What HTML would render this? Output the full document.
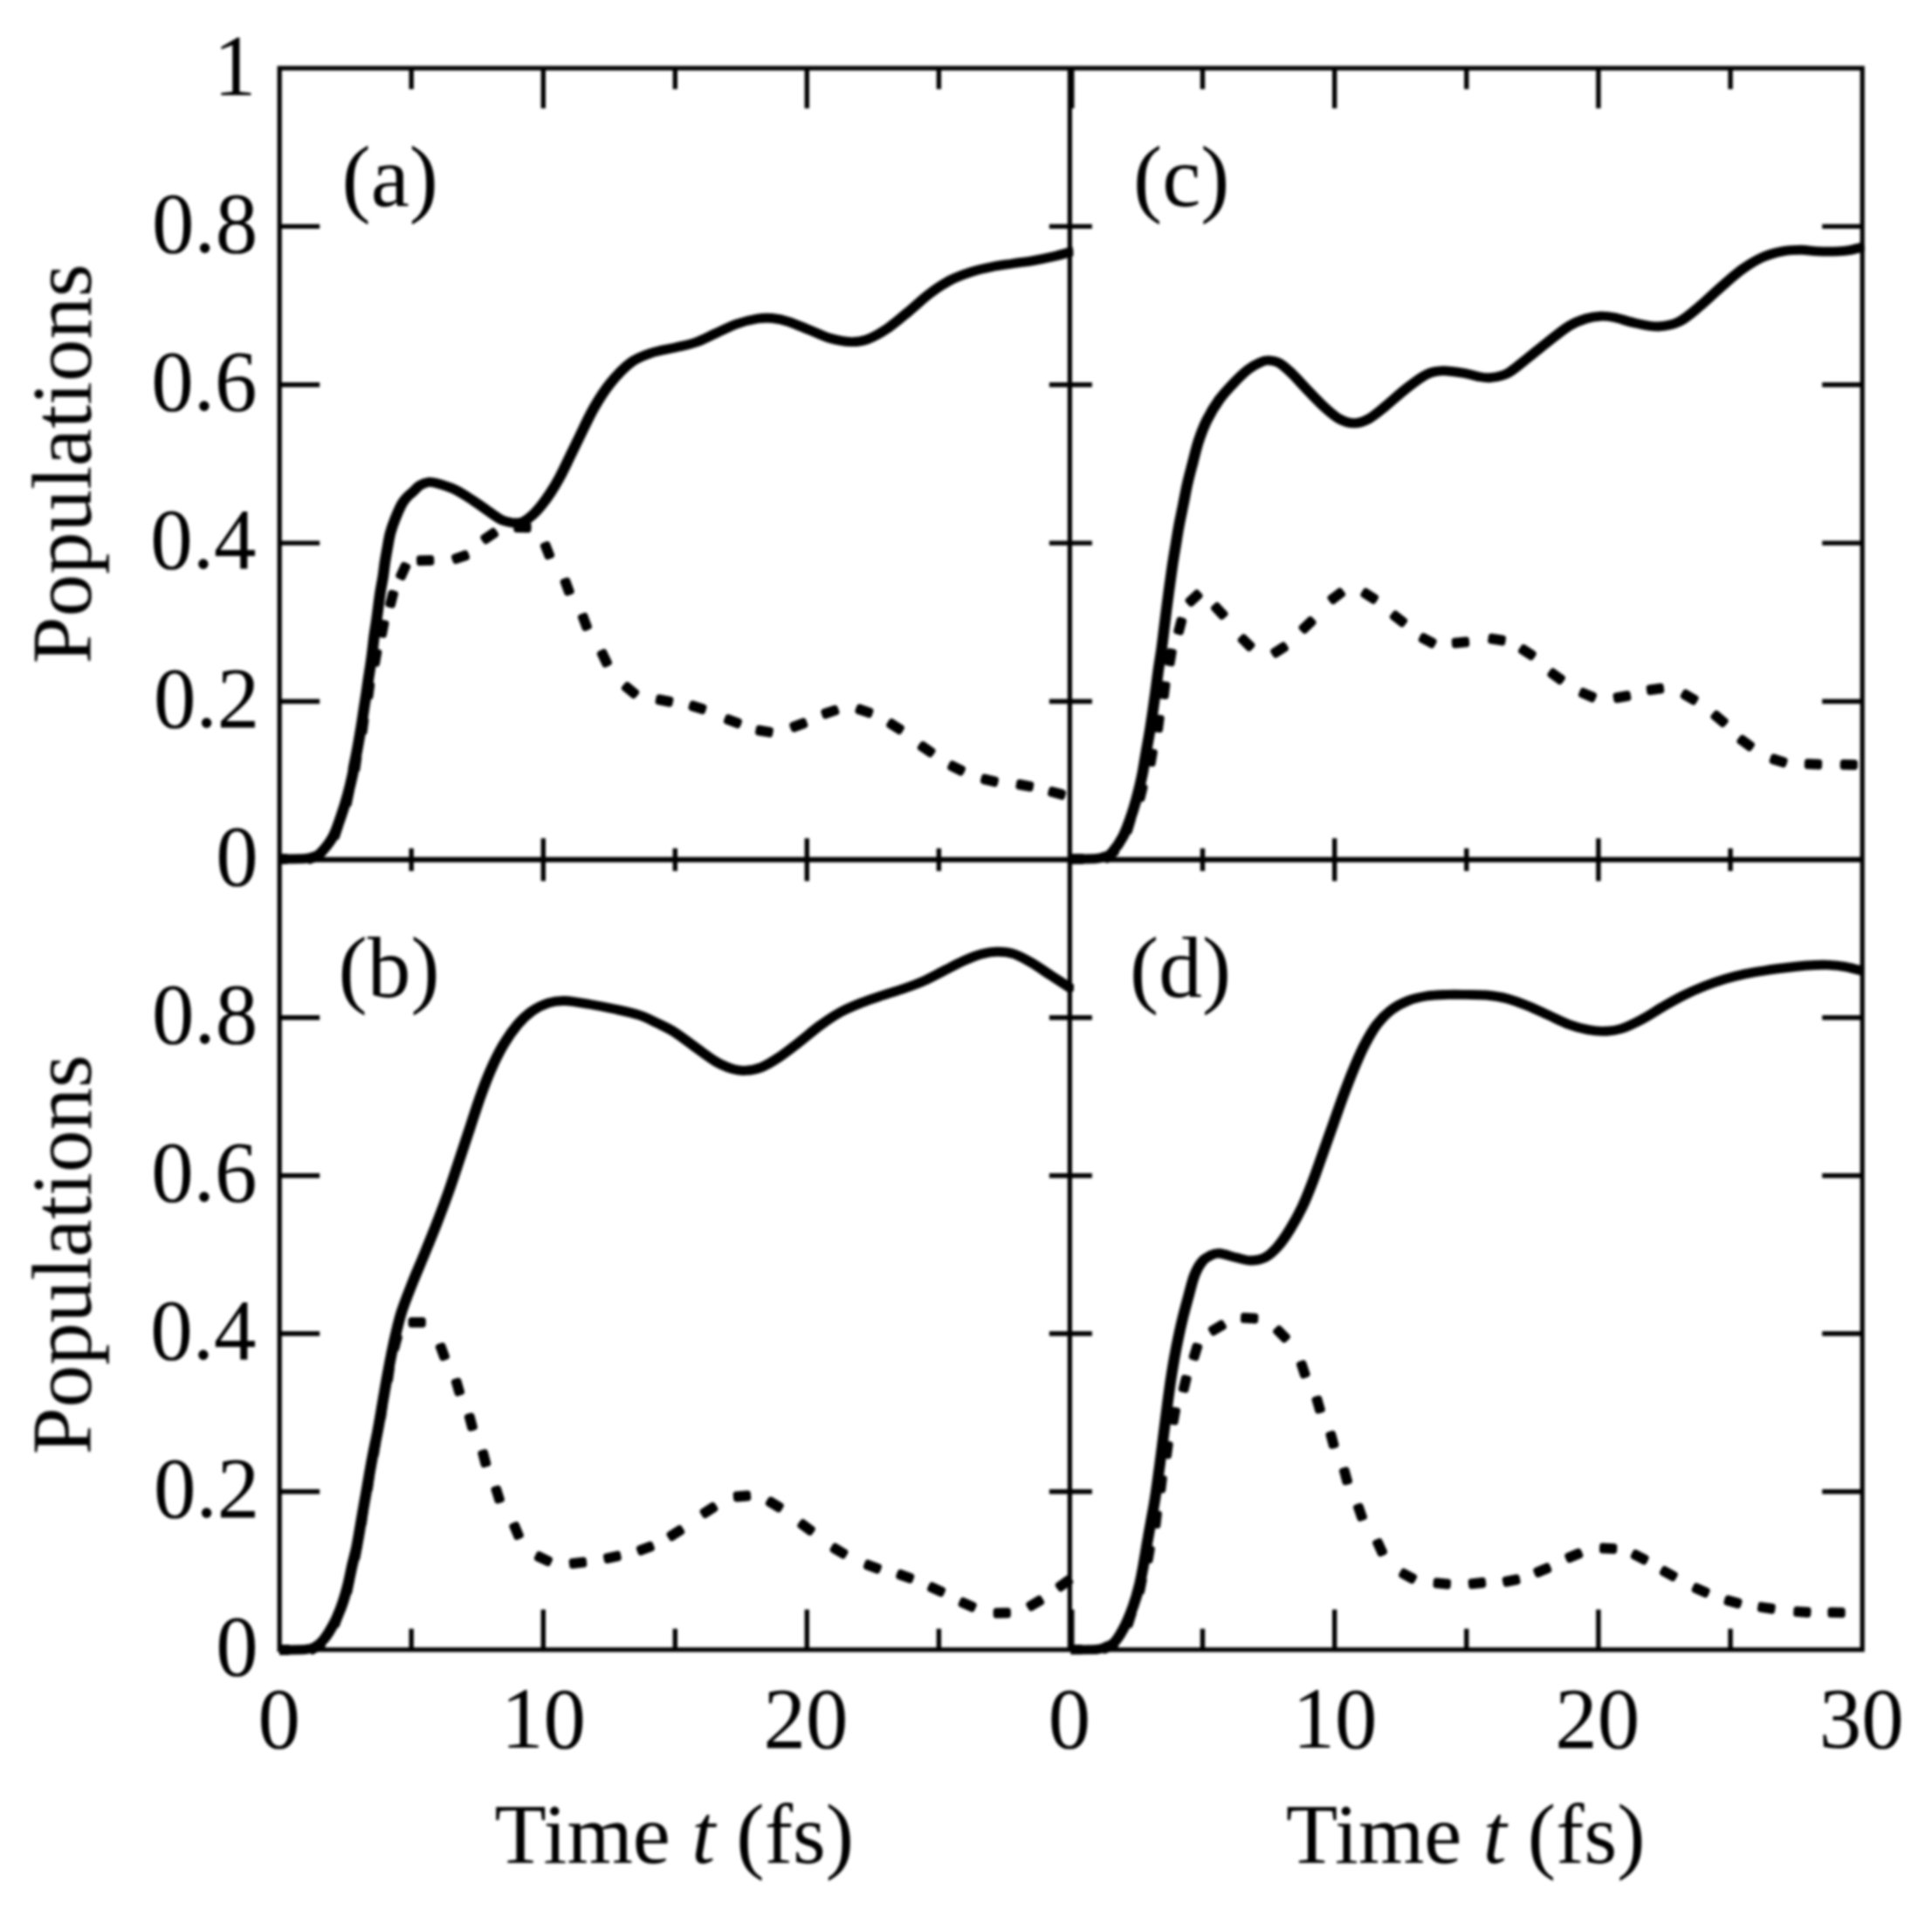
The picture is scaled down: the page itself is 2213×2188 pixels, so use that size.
<!DOCTYPE html>
<html lang="en"><head><meta charset="utf-8"><title>Populations vs time</title>
<style>html,body{margin:0;padding:0;background:#fff}body{width:2213px;height:2188px;overflow:hidden}svg{display:block;position:absolute;left:0;top:0}text{font-family:"Liberation Serif",serif;font-size:97px;fill:#000}.i{font-style:italic}</style></head><body>
<svg xmlns="http://www.w3.org/2000/svg" width="2213" height="2188" viewBox="0 0 2213 2188">
<rect width="2213" height="2188" fill="#fff"/>
<defs><filter id="soft" x="0" y="0" width="2213" height="2188" filterUnits="userSpaceOnUse"><feGaussianBlur stdDeviation="1.40"/></filter>
<clipPath id="cpa"><rect x="320.2" y="78.1" width="909.2" height="912.1"/></clipPath>
<clipPath id="cpb"><rect x="320.2" y="984.8" width="909.2" height="910.5"/></clipPath>
<clipPath id="cpc"><rect x="1226.4" y="78.1" width="908.8" height="912.1"/></clipPath>
<clipPath id="cpd"><rect x="1226.4" y="984.8" width="908.8" height="910.5"/></clipPath>
</defs>
<g filter="url(#soft)">
<g clip-path="url(#cpa)" fill="none" stroke="#000" stroke-linejoin="round">
<path d="M314.1 986.3L327.1 986.3L327.0 981.7L314.0 981.7ZM354.9 986.1L367.2 981.8L365.7 977.5L353.4 981.7ZM385.6 958.5L389.4 946.1L385.0 944.7L381.2 957.2ZM399.3 920.7L401.9 907.9L397.4 907.0L394.8 919.7ZM408.9 881.0L410.7 868.2L406.1 867.5L404.4 880.4ZM417.1 838.2L418.8 825.3L414.2 824.8L412.6 837.7ZM423.9 797.7L425.6 784.8L421.0 784.2L419.3 797.1ZM431.5 760.2L433.7 747.4L429.1 746.7L427.0 759.5ZM439.4 727.1L441.9 714.4L437.4 713.5L434.9 726.3ZM449.3 693.0L452.5 680.4L448.1 679.3L444.9 691.9ZM461.2 661.2L466.6 649.3L462.4 647.4L457.0 659.3ZM480.8 644.5L493.8 644.1L493.6 639.5L480.6 639.9ZM522.1 642.4L534.4 638.3L532.9 634.0L520.6 638.1ZM556.7 619.6L567.4 612.2L564.7 608.4L554.0 615.8ZM591.9 606.3L604.9 606.7L605.1 602.1L592.1 601.7ZM622.5 625.4L627.2 637.5L631.5 635.8L626.8 623.7ZM645.3 666.7L649.8 678.9L654.1 677.3L649.6 665.1ZM665.5 707.1L670.0 719.3L674.3 717.7L669.8 705.5ZM687.5 749.1L693.1 760.9L697.3 758.9L691.7 747.1ZM715.5 788.3L725.5 796.6L728.5 793.1L718.5 784.8ZM754.2 803.6L766.9 806.1L767.8 801.6L755.1 799.1ZM792.1 810.7L804.6 814.5L805.9 810.1L793.4 806.3ZM832.5 826.2L844.7 830.7L846.3 826.4L834.1 821.9ZM868.7 838.9L881.5 841.0L882.3 836.5L869.5 834.4ZM909.5 835.0L921.7 830.5L920.1 826.2L907.9 830.7ZM945.5 819.8L957.8 815.7L956.3 811.4L944.0 815.5ZM983.1 814.5L995.4 818.7L996.9 814.3L984.6 810.1ZM1018.9 830.7L1029.9 837.6L1032.3 833.7L1021.3 826.8ZM1054.5 856.5L1065.2 863.9L1067.9 860.1L1057.2 852.7ZM1088.8 879.2L1100.4 885.0L1102.4 880.8L1090.8 875.0ZM1126.6 894.7L1139.3 897.8L1140.4 893.3L1127.7 890.2ZM1167.1 900.9L1179.9 903.2L1180.7 898.7L1167.9 896.4ZM1203.7 909.1L1216.3 912.5L1217.5 908.1L1204.9 904.7Z" fill="#000" stroke-width="7.2"/>
<path transform="scale(1.150 1)" d="M278.26 984.00C282.61 983.92 298.55 984.00 304.35 983.50C310.14 983.00 310.52 982.08 313.04 981.00C315.57 979.92 316.33 980.83 319.48 977.00C322.62 973.17 328.49 965.17 331.91 958.00C335.33 950.83 337.59 941.92 340.00 934.00C342.41 926.08 344.46 918.33 346.35 910.50C348.23 902.67 350.29 892.37 351.30 887.00C352.32 881.63 351.75 882.55 352.43 878.30C353.12 874.05 354.46 867.08 355.39 861.50C356.32 855.92 357.16 850.38 358.00 844.80C358.84 839.22 359.67 833.58 360.43 828.00C361.20 822.42 361.87 816.88 362.61 811.30C363.35 805.72 364.14 800.08 364.87 794.50C365.59 788.92 366.23 783.38 366.96 777.80C367.68 772.22 368.52 766.58 369.22 761.00C369.91 755.42 370.52 749.88 371.13 744.30C371.74 738.72 372.22 733.08 372.87 727.50C373.52 721.92 374.36 716.38 375.04 710.80C375.72 705.22 376.30 699.58 376.96 694.00C377.61 688.42 378.19 682.88 378.96 677.30C379.72 671.72 380.81 666.08 381.57 660.50C382.32 654.92 382.74 649.38 383.48 643.80C384.22 638.22 385.10 632.58 386.00 627.00C386.90 621.42 387.55 615.88 388.87 610.30C390.19 604.72 391.97 599.08 393.91 593.50C395.86 587.92 398.45 580.98 400.52 576.80C402.59 572.62 404.41 570.78 406.35 568.40C408.29 566.02 410.19 564.57 412.17 562.50C414.16 560.43 415.83 557.70 418.26 556.00C420.70 554.30 424.03 552.72 426.78 552.30C429.54 551.88 430.41 552.08 434.78 553.50C439.16 554.92 446.97 557.48 453.04 560.80C459.12 564.12 465.16 568.87 471.22 573.40C477.28 577.93 484.84 584.42 489.39 588.00C493.94 591.58 495.48 593.18 498.52 594.90C501.57 596.62 505.09 597.62 507.65 598.30C510.22 598.98 511.64 599.13 513.91 599.00C516.19 598.87 518.55 599.00 521.30 597.50C524.06 596.00 527.41 593.15 530.43 590.00C533.46 586.85 536.45 582.93 539.48 578.60C542.51 574.27 545.57 569.40 548.61 564.00C551.65 558.60 554.71 552.67 557.74 546.20C560.77 539.73 563.51 532.90 566.78 525.20C570.06 517.50 573.23 509.70 577.39 500.00C581.55 490.30 586.59 477.25 591.74 467.00C596.88 456.75 602.10 447.17 608.26 438.50C614.42 429.83 621.81 420.75 628.70 415.00C635.58 409.25 642.32 406.80 649.57 404.00C656.81 401.20 664.97 400.15 672.17 398.20C679.38 396.25 685.91 395.07 692.78 392.30C699.65 389.53 706.51 385.15 713.39 381.60C720.28 378.05 727.20 373.77 734.09 371.00C740.97 368.23 748.86 366.08 754.70 365.00C760.54 363.92 763.97 363.90 769.13 364.50C774.29 365.10 779.46 366.35 785.65 368.60C791.84 370.85 799.39 374.85 806.26 378.00C813.13 381.15 820.00 385.23 826.87 387.50C833.74 389.77 841.29 391.40 847.48 391.60C853.67 391.80 857.81 391.35 864.00 388.70C870.19 386.05 877.74 381.03 884.61 375.70C891.48 370.37 898.35 363.23 905.22 356.70C912.09 350.17 918.94 342.45 925.83 336.50C932.71 330.55 939.64 325.15 946.52 321.00C953.41 316.85 960.26 314.15 967.13 311.60C974.00 309.05 980.87 307.30 987.74 305.70C994.61 304.10 1001.48 303.18 1008.35 302.00C1015.22 300.82 1022.09 299.97 1028.96 298.60C1035.83 297.23 1042.80 295.65 1049.57 293.80C1056.33 291.95 1066.23 288.55 1069.57 287.50" stroke-width="10.9"/>
</g>
<g clip-path="url(#cpb)" fill="none" stroke="#000" stroke-linejoin="round">
<path d="M316.6 1892.3L329.6 1892.3L329.6 1887.7L316.6 1887.7ZM358.1 1891.6L369.2 1884.9L366.8 1880.9L355.7 1887.7ZM385.7 1861.2L390.0 1848.9L385.6 1847.4L381.3 1859.6ZM399.9 1823.4L402.2 1810.6L397.7 1809.7L395.4 1822.5ZM409.0 1784.4L411.2 1771.6L406.7 1770.8L404.5 1783.6ZM416.4 1745.0L418.0 1732.1L413.5 1731.5L411.9 1744.4ZM423.4 1705.6L425.0 1692.7L420.4 1692.1L418.8 1705.0ZM430.4 1666.3L432.3 1653.4L427.7 1652.7L425.9 1665.6ZM438.5 1623.8L440.1 1610.9L435.5 1610.3L434.0 1623.2ZM446.5 1580.8L448.3 1567.9L443.7 1567.3L441.9 1580.1ZM453.9 1544.7L457.2 1532.1L452.7 1530.9L449.4 1543.5ZM471.2 1517.1L484.2 1517.1L484.2 1512.5L471.2 1512.5ZM502.5 1543.2L507.0 1555.4L511.3 1553.8L506.8 1541.6ZM520.5 1583.2L524.1 1595.7L528.5 1594.4L524.9 1581.9ZM535.5 1623.3L538.8 1635.9L543.3 1634.7L540.0 1622.1ZM550.9 1664.9L554.2 1677.5L558.7 1676.3L555.4 1663.7ZM566.1 1706.5L570.0 1718.9L574.3 1717.5L570.4 1705.1ZM587.0 1748.5L592.0 1760.5L596.2 1758.7L591.2 1746.7ZM615.5 1785.0L627.3 1790.6L629.3 1786.4L617.5 1780.8ZM655.8 1793.4L668.7 1792.0L668.2 1787.4L655.3 1788.8ZM695.5 1787.4L708.2 1784.7L707.3 1780.2L694.6 1782.9ZM734.1 1778.2L746.3 1773.7L744.7 1769.4L732.5 1773.9ZM769.7 1761.8L780.6 1754.8L778.2 1750.9L767.2 1757.9ZM807.8 1735.5L818.7 1728.4L816.2 1724.5L805.3 1731.6ZM843.7 1716.8L856.7 1715.8L856.3 1711.2L843.3 1712.2ZM880.5 1722.1L891.7 1728.8L894.1 1724.9L882.9 1718.2ZM917.0 1747.6L927.5 1755.3L930.2 1751.6L919.7 1743.9ZM954.2 1775.3L965.4 1782.0L967.8 1778.1L956.6 1771.4ZM992.6 1794.6L1004.8 1799.1L1006.4 1794.8L994.2 1790.3ZM1029.9 1805.8L1042.2 1810.1L1043.7 1805.8L1031.4 1801.5ZM1065.7 1820.2L1077.5 1825.6L1079.5 1821.4L1067.7 1816.0ZM1101.3 1837.8L1113.2 1843.0L1115.1 1838.8L1103.2 1833.6ZM1141.3 1850.2L1154.3 1850.0L1154.3 1845.4L1141.3 1845.6ZM1181.3 1842.0L1192.5 1835.4L1190.1 1831.4L1178.9 1838.0ZM1215.1 1819.7L1225.6 1812.0L1222.9 1808.3L1212.4 1816.0Z" fill="#000" stroke-width="7.2"/>
<path transform="scale(1.150 1)" d="M278.26 1890.00C282.61 1889.92 298.41 1890.08 304.35 1889.50C310.29 1888.92 310.87 1888.42 313.91 1886.50C316.96 1884.58 319.43 1882.58 322.61 1878.00C325.78 1873.42 330.03 1865.33 332.96 1859.00C335.88 1852.67 337.94 1847.08 340.17 1840.00C342.41 1832.92 344.57 1824.37 346.35 1816.50C348.13 1808.63 349.36 1800.30 350.87 1792.80C352.38 1785.30 353.80 1780.63 355.39 1771.50C356.99 1762.37 358.74 1749.17 360.43 1738.00C362.13 1726.83 363.86 1715.67 365.57 1704.50C367.28 1693.33 368.87 1682.17 370.70 1671.00C372.52 1659.83 374.71 1648.67 376.52 1637.50C378.33 1626.33 379.87 1615.17 381.57 1604.00C383.26 1592.83 384.87 1581.67 386.70 1570.50C388.52 1559.33 390.33 1548.17 392.52 1537.00C394.71 1525.83 396.80 1514.67 399.83 1503.50C402.86 1492.33 406.90 1481.08 410.70 1470.00C414.49 1458.92 418.55 1448.42 422.61 1437.00C426.67 1425.58 430.91 1413.75 435.04 1401.50C439.17 1389.25 443.61 1375.75 447.39 1363.50C451.17 1351.25 454.30 1339.85 457.74 1328.00C461.17 1316.15 464.58 1304.27 468.00 1292.40C471.42 1280.53 474.81 1267.87 478.26 1256.80C481.71 1245.73 484.90 1235.88 488.70 1226.00C492.49 1216.12 496.58 1206.20 501.04 1197.50C505.51 1188.80 510.67 1180.33 515.48 1173.80C520.29 1167.27 524.75 1162.47 529.91 1158.30C535.07 1154.13 540.94 1150.77 546.43 1148.80C551.93 1146.83 556.00 1146.22 562.87 1146.50C569.74 1146.78 579.39 1148.92 587.65 1150.50C595.91 1152.08 604.19 1153.92 612.43 1156.00C620.68 1158.08 629.93 1160.23 637.13 1163.00C644.33 1165.77 649.81 1169.33 655.65 1172.60C661.49 1175.87 665.99 1178.07 672.17 1182.60C678.36 1187.13 685.91 1194.17 692.78 1199.80C699.65 1205.43 707.20 1212.25 713.39 1216.40C719.58 1220.55 725.10 1223.03 729.91 1224.70C734.72 1226.37 737.45 1226.78 742.26 1226.40C747.07 1226.02 753.28 1224.85 758.78 1222.40C764.29 1219.95 769.12 1216.43 775.30 1211.70C781.49 1206.97 789.04 1200.12 795.91 1194.00C802.78 1187.88 809.65 1180.75 816.52 1175.00C823.39 1169.25 830.25 1163.87 837.13 1159.50C844.01 1155.13 850.94 1151.97 857.83 1148.80C864.71 1145.63 871.57 1143.13 878.43 1140.50C885.30 1137.87 892.17 1135.75 899.04 1133.00C905.91 1130.25 912.78 1127.50 919.65 1124.00C926.52 1120.50 933.39 1115.97 940.26 1112.00C947.13 1108.03 954.68 1103.37 960.87 1100.20C967.06 1097.03 971.88 1094.65 977.39 1093.00C982.90 1091.35 988.41 1090.30 993.91 1090.30C999.42 1090.30 1004.93 1090.95 1010.43 1093.00C1015.94 1095.05 1020.77 1098.43 1026.96 1102.60C1033.14 1106.77 1040.46 1112.68 1047.57 1118.00C1054.67 1123.32 1065.90 1131.75 1069.57 1134.50" stroke-width="10.9"/>
</g>
<g clip-path="url(#cpc)" fill="none" stroke="#000" stroke-linejoin="round">
<path d="M1226.3 986.3L1239.3 986.3L1239.3 981.7L1226.3 981.7ZM1268.3 984.9L1278.3 976.5L1275.3 973.0L1265.4 981.3ZM1293.4 952.2L1297.1 939.7L1292.6 938.4L1289.0 950.9ZM1307.9 914.8L1311.0 902.1L1306.6 901.0L1303.4 913.6ZM1320.1 874.7L1322.2 861.9L1317.7 861.1L1315.5 873.9ZM1328.4 835.7L1330.1 822.8L1325.6 822.2L1323.8 835.1ZM1335.2 797.4L1336.8 784.5L1332.2 783.9L1330.7 796.9ZM1342.0 759.8L1344.1 747.0L1339.6 746.2L1337.4 759.0ZM1352.3 724.1L1355.5 711.5L1351.1 710.3L1347.9 722.9ZM1364.4 691.3L1373.9 682.5L1370.8 679.1L1361.3 687.9ZM1390.7 696.7L1399.5 706.2L1402.9 703.1L1394.1 693.6ZM1421.4 733.3L1430.6 742.4L1433.8 739.1L1424.6 730.0ZM1461.3 749.9L1472.3 743.0L1469.9 739.1L1458.9 746.0ZM1494.5 722.2L1503.9 713.1L1500.7 709.8L1491.3 718.9ZM1527.0 688.5L1537.4 680.7L1534.6 677.1L1524.2 684.9ZM1562.0 681.3L1573.0 688.2L1575.4 684.3L1564.4 677.4ZM1595.5 706.7L1605.7 714.7L1608.5 711.1L1598.3 703.1ZM1628.4 732.8L1639.9 738.9L1642.0 734.8L1630.5 728.7ZM1666.7 738.9L1679.7 737.7L1679.3 733.1L1666.3 734.3ZM1707.8 733.9L1720.7 735.9L1721.4 731.3L1708.5 729.3ZM1742.7 745.7L1753.6 752.7L1756.1 748.9L1745.2 741.9ZM1776.1 772.9L1786.6 780.5L1789.3 776.7L1778.8 769.1ZM1811.6 795.8L1823.6 800.9L1825.4 796.6L1813.4 791.5ZM1852.0 801.7L1864.8 799.5L1864.0 794.9L1851.2 797.1ZM1889.9 792.6L1902.7 790.9L1902.1 786.4L1889.3 788.1ZM1928.4 797.3L1939.6 803.9L1942.0 799.9L1930.8 793.3ZM1963.1 821.1L1973.1 829.4L1976.1 825.9L1966.1 817.6ZM1993.1 849.2L2003.6 856.9L2006.3 853.2L1995.8 845.5ZM2030.3 871.7L2042.7 875.5L2044.1 871.1L2031.7 867.3ZM2070.4 877.4L2083.4 878.0L2083.6 873.4L2070.6 872.8ZM2111.3 878.2L2124.2 878.4L2124.3 873.8L2111.4 873.6Z" fill="#000" stroke-width="7.2"/>
<path transform="scale(1.150 1)" d="M1066.61 984.00C1070.87 983.92 1086.46 984.00 1092.17 983.50C1097.88 983.00 1098.35 982.08 1100.87 981.00C1103.39 979.92 1104.33 980.83 1107.30 977.00C1110.28 973.17 1115.42 965.17 1118.70 958.00C1121.97 950.83 1124.57 941.92 1126.96 934.00C1129.35 926.08 1131.23 918.33 1133.04 910.50C1134.86 902.67 1136.43 894.92 1137.83 887.00C1139.22 879.08 1140.19 870.95 1141.39 863.00C1142.59 855.05 1143.91 847.20 1145.04 839.30C1146.17 831.40 1147.17 823.48 1148.17 815.60C1149.17 807.72 1150.12 799.90 1151.04 792.00C1151.97 784.10 1152.77 776.12 1153.74 768.20C1154.71 760.28 1155.91 752.42 1156.87 744.50C1157.83 736.58 1158.62 728.62 1159.48 720.70C1160.33 712.78 1161.13 704.90 1162.00 697.00C1162.87 689.10 1163.77 681.20 1164.70 673.30C1165.62 665.40 1166.54 657.50 1167.57 649.60C1168.59 641.70 1169.74 633.83 1170.87 625.90C1172.00 617.97 1173.07 609.92 1174.35 602.00C1175.62 594.08 1177.14 586.28 1178.52 578.40C1179.90 570.52 1181.06 562.60 1182.61 554.70C1184.16 546.80 1185.94 539.28 1187.83 531.00C1189.71 522.72 1191.52 513.30 1193.91 505.00C1196.30 496.70 1198.72 489.12 1202.17 481.20C1205.62 473.28 1210.13 464.62 1214.61 457.50C1219.09 450.38 1224.23 444.25 1229.04 438.50C1233.86 432.75 1239.01 426.95 1243.48 423.00C1247.94 419.05 1252.39 416.48 1255.83 414.80C1259.26 413.12 1260.99 412.70 1264.09 412.90C1267.19 413.10 1270.65 413.50 1274.43 416.00C1278.22 418.50 1281.97 422.57 1286.78 427.90C1291.59 433.23 1297.81 441.48 1303.30 448.00C1308.80 454.52 1314.59 461.67 1319.74 467.00C1324.88 472.33 1329.35 477.03 1334.17 480.00C1339.00 482.97 1343.88 484.80 1348.70 484.80C1353.51 484.80 1357.90 483.17 1363.04 480.00C1368.19 476.83 1373.38 471.53 1379.57 465.80C1385.75 460.07 1393.29 451.73 1400.17 445.60C1407.06 439.47 1414.67 432.47 1420.87 429.00C1427.07 425.53 1430.87 424.98 1437.39 424.80C1443.91 424.62 1454.17 426.80 1460.00 427.90C1465.83 429.00 1468.22 430.62 1472.35 431.40C1476.48 432.18 1479.97 433.18 1484.78 432.60C1489.59 432.02 1495.03 431.67 1501.22 427.90C1507.41 424.13 1515.03 416.15 1521.91 410.00C1528.80 403.85 1535.65 397.12 1542.52 391.00C1549.39 384.88 1556.94 377.63 1563.13 373.30C1569.32 368.97 1574.49 366.85 1579.65 365.00C1584.81 363.15 1589.28 362.40 1594.09 362.20C1598.90 362.00 1602.68 362.47 1608.52 363.80C1614.36 365.13 1621.91 368.50 1629.13 370.20C1636.35 371.90 1644.61 374.27 1651.83 374.00C1659.04 373.73 1665.57 372.47 1672.43 368.60C1679.30 364.73 1686.17 357.33 1693.04 350.80C1699.91 344.27 1706.77 336.32 1713.65 329.40C1720.54 322.48 1727.46 315.03 1734.35 309.30C1741.23 303.57 1748.09 298.57 1754.96 295.00C1761.83 291.43 1769.04 289.35 1775.57 287.90C1782.09 286.45 1788.25 286.30 1794.09 286.30C1799.93 286.30 1804.42 287.63 1810.61 287.90C1816.80 288.17 1825.71 288.17 1831.22 287.90C1836.72 287.63 1839.29 287.20 1843.65 286.30C1848.01 285.40 1855.10 283.13 1857.39 282.50" stroke-width="10.9"/>
</g>
<g clip-path="url(#cpd)" fill="none" stroke="#000" stroke-linejoin="round">
<path d="M1224.7 1892.3L1237.7 1892.3L1237.7 1887.7L1224.7 1887.7ZM1265.7 1890.8L1277.5 1885.2L1275.5 1881.1L1263.7 1886.6ZM1294.2 1861.3L1298.1 1848.9L1293.8 1847.5L1289.8 1859.9ZM1307.6 1823.0L1310.1 1810.2L1305.6 1809.3L1303.1 1822.1ZM1317.0 1787.4L1319.2 1774.6L1314.6 1773.8L1312.4 1786.7ZM1325.8 1747.3L1327.3 1734.4L1322.7 1733.9L1321.3 1746.8ZM1331.7 1706.8L1333.2 1693.9L1328.6 1693.4L1327.2 1706.3ZM1338.4 1667.6L1340.1 1654.8L1335.6 1654.1L1333.8 1667.0ZM1346.1 1628.9L1348.4 1616.1L1343.9 1615.3L1341.6 1628.1ZM1358.0 1592.1L1361.0 1579.5L1356.5 1578.4L1353.5 1591.1ZM1369.8 1555.4L1373.6 1542.9L1369.2 1541.6L1365.4 1554.1ZM1390.0 1526.5L1401.2 1519.9L1398.8 1515.9L1387.6 1522.5ZM1424.6 1512.0L1437.6 1512.6L1437.8 1508.0L1424.8 1507.4ZM1461.8 1525.3L1470.9 1534.5L1474.2 1531.3L1465.1 1522.1ZM1488.6 1563.1L1492.7 1575.5L1497.0 1574.1L1492.9 1561.7ZM1506.2 1603.4L1509.8 1615.9L1514.2 1614.6L1510.6 1602.1ZM1522.1 1643.6L1525.5 1656.2L1529.9 1655.0L1526.5 1642.4ZM1537.6 1685.1L1541.0 1697.7L1545.4 1696.5L1542.0 1683.9ZM1553.7 1726.9L1557.9 1739.2L1562.3 1737.7L1558.1 1725.4ZM1575.8 1767.6L1581.2 1779.5L1585.4 1777.6L1580.0 1765.7ZM1605.8 1804.3L1617.2 1810.5L1619.4 1806.5L1608.0 1800.3ZM1645.1 1815.7L1658.1 1816.9L1658.5 1812.3L1645.5 1811.1ZM1685.8 1816.7L1698.7 1815.3L1698.2 1810.7L1685.3 1812.1ZM1725.3 1814.1L1738.0 1811.6L1737.1 1807.1L1724.4 1809.6ZM1761.7 1803.3L1773.7 1798.4L1771.9 1794.1L1759.9 1799.0ZM1797.7 1786.6L1809.7 1781.6L1807.9 1777.4L1795.9 1782.4ZM1835.6 1775.8L1848.6 1776.4L1848.8 1771.8L1835.8 1771.2ZM1871.4 1782.9L1883.0 1788.8L1885.0 1784.7L1873.4 1778.8ZM1904.6 1801.6L1916.0 1807.8L1918.2 1803.8L1906.8 1797.6ZM1941.3 1821.2L1953.2 1826.4L1955.1 1822.2L1943.2 1817.0ZM1978.1 1835.5L1990.7 1838.9L1991.9 1834.5L1979.3 1831.1ZM2016.6 1843.2L2029.5 1845.1L2030.2 1840.6L2017.3 1838.7ZM2057.8 1848.5L2070.7 1849.3L2071.0 1844.7L2058.1 1843.9ZM2097.1 1849.5L2110.1 1849.7L2110.1 1845.1L2097.1 1844.9ZM2136.0 1847.5L2136.0 1847.5L2136.0 1847.5L2136.0 1847.5Z" fill="#000" stroke-width="7.2"/>
<path transform="scale(1.150 1)" d="M1066.61 1890.00C1070.87 1889.92 1086.32 1890.08 1092.17 1889.50C1098.03 1888.92 1098.65 1888.00 1101.74 1886.50C1104.83 1885.00 1107.51 1884.65 1110.70 1880.50C1113.88 1876.35 1117.87 1868.32 1120.87 1861.60C1123.87 1854.88 1126.38 1847.72 1128.70 1840.20C1131.01 1832.68 1133.07 1824.40 1134.78 1816.50C1136.49 1808.60 1137.68 1800.72 1138.96 1792.80C1140.23 1784.88 1141.25 1776.92 1142.43 1769.00C1143.62 1761.08 1144.86 1753.20 1146.09 1745.30C1147.32 1737.40 1148.70 1729.50 1149.83 1721.60C1150.96 1713.70 1151.90 1705.80 1152.87 1697.90C1153.84 1690.00 1154.75 1682.10 1155.65 1674.20C1156.55 1666.30 1157.39 1658.42 1158.26 1650.50C1159.13 1642.58 1160.00 1634.62 1160.87 1626.70C1161.74 1618.78 1162.57 1610.90 1163.48 1603.00C1164.39 1595.10 1165.30 1587.20 1166.35 1579.30C1167.39 1571.40 1168.51 1563.50 1169.74 1555.60C1170.97 1547.70 1172.29 1539.80 1173.74 1531.90C1175.19 1524.00 1176.74 1516.12 1178.43 1508.20C1180.13 1500.28 1182.01 1492.32 1183.91 1484.40C1185.81 1476.48 1187.61 1467.22 1189.83 1460.70C1192.04 1454.18 1194.58 1449.05 1197.22 1445.30C1199.86 1441.55 1202.75 1439.78 1205.65 1438.20C1208.55 1436.62 1210.38 1435.42 1214.61 1435.80C1218.84 1436.18 1225.88 1439.13 1231.04 1440.50C1236.20 1441.87 1240.74 1444.00 1245.57 1444.00C1250.39 1444.00 1255.54 1443.08 1260.00 1440.50C1264.46 1437.92 1268.23 1433.82 1272.35 1428.50C1276.46 1423.18 1280.57 1416.27 1284.70 1408.60C1288.83 1400.93 1293.35 1391.60 1297.13 1382.50C1300.91 1373.40 1303.96 1364.28 1307.39 1354.00C1310.83 1343.72 1314.30 1331.87 1317.74 1320.80C1321.17 1309.73 1324.58 1298.67 1328.00 1287.60C1331.42 1276.53 1334.81 1265.07 1338.26 1254.40C1341.71 1243.73 1345.25 1233.08 1348.70 1223.60C1352.14 1214.12 1355.19 1205.80 1358.96 1197.50C1362.72 1189.20 1366.84 1180.55 1371.30 1173.80C1375.77 1167.05 1380.58 1161.55 1385.74 1157.00C1390.90 1152.45 1396.41 1149.17 1402.26 1146.50C1408.12 1143.83 1414.33 1142.18 1420.87 1141.00C1427.41 1139.82 1434.96 1139.67 1441.48 1139.40C1448.00 1139.13 1453.48 1139.30 1460.00 1139.40C1466.52 1139.50 1473.74 1139.23 1480.61 1140.00C1487.48 1140.77 1494.33 1141.93 1501.22 1144.00C1508.10 1146.07 1515.03 1149.23 1521.91 1152.40C1528.80 1155.57 1535.65 1159.43 1542.52 1163.00C1549.39 1166.57 1556.59 1171.02 1563.13 1173.80C1569.67 1176.58 1575.88 1178.45 1581.74 1179.70C1587.59 1180.95 1592.77 1181.50 1598.26 1181.30C1603.75 1181.10 1608.52 1180.75 1614.70 1178.50C1620.87 1176.25 1628.43 1171.95 1635.30 1167.80C1642.17 1163.65 1649.04 1158.15 1655.91 1153.60C1662.78 1149.05 1669.64 1144.45 1676.52 1140.50C1683.41 1136.55 1690.33 1133.05 1697.22 1129.90C1704.10 1126.75 1710.96 1123.98 1717.83 1121.60C1724.70 1119.22 1731.57 1117.27 1738.43 1115.60C1745.30 1113.93 1752.17 1112.78 1759.04 1111.60C1765.91 1110.42 1772.77 1109.43 1779.65 1108.50C1786.54 1107.57 1793.48 1106.52 1800.35 1106.00C1807.22 1105.48 1814.70 1105.18 1820.87 1105.40C1827.04 1105.62 1831.30 1106.07 1837.39 1107.30C1843.48 1108.53 1854.06 1111.88 1857.39 1112.80" stroke-width="10.9"/>
</g>
<g stroke="#000" fill="none" stroke-linecap="butt">
<rect x="320.2" y="78.1" width="1813.0" height="1811.7" stroke-width="5.2"/>
<line x1="1225.4" y1="78.1" x2="1225.4" y2="1889.8" stroke-width="5.2"/>
<line x1="320.2" y1="984.8" x2="2133.2" y2="984.8" stroke-width="6.0"/>
<line x1="471.2" y1="78.1" x2="471.2" y2="102.1" stroke-width="5.4"/>
<line x1="471.2" y1="1889.8" x2="471.2" y2="1865.8" stroke-width="5.4"/>
<line x1="471.2" y1="971.8" x2="471.2" y2="997.8" stroke-width="5.4"/>
<line x1="622.3" y1="78.1" x2="622.3" y2="124.1" stroke-width="5.4"/>
<line x1="622.3" y1="1889.8" x2="622.3" y2="1843.8" stroke-width="5.4"/>
<line x1="622.3" y1="960.3" x2="622.3" y2="1009.3" stroke-width="5.4"/>
<line x1="773.3" y1="78.1" x2="773.3" y2="102.1" stroke-width="5.4"/>
<line x1="773.3" y1="1889.8" x2="773.3" y2="1865.8" stroke-width="5.4"/>
<line x1="773.3" y1="971.8" x2="773.3" y2="997.8" stroke-width="5.4"/>
<line x1="924.3" y1="78.1" x2="924.3" y2="124.1" stroke-width="5.4"/>
<line x1="924.3" y1="1889.8" x2="924.3" y2="1843.8" stroke-width="5.4"/>
<line x1="924.3" y1="960.3" x2="924.3" y2="1009.3" stroke-width="5.4"/>
<line x1="1075.4" y1="78.1" x2="1075.4" y2="102.1" stroke-width="5.4"/>
<line x1="1075.4" y1="1889.8" x2="1075.4" y2="1865.8" stroke-width="5.4"/>
<line x1="1075.4" y1="971.8" x2="1075.4" y2="997.8" stroke-width="5.4"/>
<line x1="1377.5" y1="78.1" x2="1377.5" y2="102.1" stroke-width="5.4"/>
<line x1="1377.5" y1="1889.8" x2="1377.5" y2="1865.8" stroke-width="5.4"/>
<line x1="1377.5" y1="971.8" x2="1377.5" y2="997.8" stroke-width="5.4"/>
<line x1="1528.7" y1="78.1" x2="1528.7" y2="124.1" stroke-width="5.4"/>
<line x1="1528.7" y1="1889.8" x2="1528.7" y2="1843.8" stroke-width="5.4"/>
<line x1="1528.7" y1="960.3" x2="1528.7" y2="1009.3" stroke-width="5.4"/>
<line x1="1679.8" y1="78.1" x2="1679.8" y2="102.1" stroke-width="5.4"/>
<line x1="1679.8" y1="1889.8" x2="1679.8" y2="1865.8" stroke-width="5.4"/>
<line x1="1679.8" y1="971.8" x2="1679.8" y2="997.8" stroke-width="5.4"/>
<line x1="1830.9" y1="78.1" x2="1830.9" y2="124.1" stroke-width="5.4"/>
<line x1="1830.9" y1="1889.8" x2="1830.9" y2="1843.8" stroke-width="5.4"/>
<line x1="1830.9" y1="960.3" x2="1830.9" y2="1009.3" stroke-width="5.4"/>
<line x1="1982.1" y1="78.1" x2="1982.1" y2="102.1" stroke-width="5.4"/>
<line x1="1982.1" y1="1889.8" x2="1982.1" y2="1865.8" stroke-width="5.4"/>
<line x1="1982.1" y1="971.8" x2="1982.1" y2="997.8" stroke-width="5.4"/>
<line x1="1227.6" y1="78.1" x2="1227.6" y2="124.1" stroke-width="5.8"/>
<line x1="1227.6" y1="1889.8" x2="1227.6" y2="1843.8" stroke-width="5.8"/>
<line x1="320.2" y1="803.5" x2="366.2" y2="803.5" stroke-width="5.4"/>
<line x1="2133.2" y1="803.5" x2="2087.2" y2="803.5" stroke-width="5.4"/>
<line x1="1201.9" y1="803.5" x2="1250.9" y2="803.5" stroke-width="5.4"/>
<line x1="320.2" y1="622.1" x2="366.2" y2="622.1" stroke-width="5.4"/>
<line x1="2133.2" y1="622.1" x2="2087.2" y2="622.1" stroke-width="5.4"/>
<line x1="1201.9" y1="622.1" x2="1250.9" y2="622.1" stroke-width="5.4"/>
<line x1="320.2" y1="440.8" x2="366.2" y2="440.8" stroke-width="5.4"/>
<line x1="2133.2" y1="440.8" x2="2087.2" y2="440.8" stroke-width="5.4"/>
<line x1="1201.9" y1="440.8" x2="1250.9" y2="440.8" stroke-width="5.4"/>
<line x1="320.2" y1="259.4" x2="366.2" y2="259.4" stroke-width="5.4"/>
<line x1="2133.2" y1="259.4" x2="2087.2" y2="259.4" stroke-width="5.4"/>
<line x1="1201.9" y1="259.4" x2="1250.9" y2="259.4" stroke-width="5.4"/>
<line x1="320.2" y1="1708.8" x2="366.2" y2="1708.8" stroke-width="5.4"/>
<line x1="2133.2" y1="1708.8" x2="2087.2" y2="1708.8" stroke-width="5.4"/>
<line x1="1201.9" y1="1708.8" x2="1250.9" y2="1708.8" stroke-width="5.4"/>
<line x1="320.2" y1="1527.8" x2="366.2" y2="1527.8" stroke-width="5.4"/>
<line x1="2133.2" y1="1527.8" x2="2087.2" y2="1527.8" stroke-width="5.4"/>
<line x1="1201.9" y1="1527.8" x2="1250.9" y2="1527.8" stroke-width="5.4"/>
<line x1="320.2" y1="1346.8" x2="366.2" y2="1346.8" stroke-width="5.4"/>
<line x1="2133.2" y1="1346.8" x2="2087.2" y2="1346.8" stroke-width="5.4"/>
<line x1="1201.9" y1="1346.8" x2="1250.9" y2="1346.8" stroke-width="5.4"/>
<line x1="320.2" y1="1165.8" x2="366.2" y2="1165.8" stroke-width="5.4"/>
<line x1="2133.2" y1="1165.8" x2="2087.2" y2="1165.8" stroke-width="5.4"/>
<line x1="1201.9" y1="1165.8" x2="1250.9" y2="1165.8" stroke-width="5.4"/>
</g>
<g>
<text transform="translate(293.3 109.0) scale(1 1.03)" text-anchor="end">1</text>
<text transform="translate(295.2 288.6) scale(1 1.03)" text-anchor="end">0.8</text>
<text transform="translate(294.5 470.0) scale(1 1.03)" text-anchor="end">0.6</text>
<text transform="translate(293.5 651.3) scale(1 1.03)" text-anchor="end">0.4</text>
<text transform="translate(297.2 832.7) scale(1 1.03)" text-anchor="end">0.2</text>
<text transform="translate(295.7 1014.0) scale(1 1.03)" text-anchor="end">0</text>
<text transform="translate(295.2 1195.0) scale(1 1.03)" text-anchor="end">0.8</text>
<text transform="translate(294.5 1376.0) scale(1 1.03)" text-anchor="end">0.6</text>
<text transform="translate(293.5 1557.0) scale(1 1.03)" text-anchor="end">0.4</text>
<text transform="translate(297.2 1738.0) scale(1 1.03)" text-anchor="end">0.2</text>
<text transform="translate(295.7 1919.0) scale(1 1.03)" text-anchor="end">0</text>
<text transform="translate(319.7 2002.2) scale(1 1.03)" text-anchor="middle">0</text>
<text transform="translate(622.6 2002.2) scale(1 1.03)" text-anchor="middle">10</text>
<text transform="translate(923.1 2002.2) scale(1 1.03)" text-anchor="middle">20</text>
<text transform="translate(1225.1 2002.2) scale(1 1.03)" text-anchor="middle">0</text>
<text transform="translate(1529.0 2002.2) scale(1 1.03)" text-anchor="middle">10</text>
<text transform="translate(1829.7 2002.2) scale(1 1.03)" text-anchor="middle">20</text>
<text transform="translate(2132.3 2002.2) scale(1 1.03)" text-anchor="middle">30</text>
<text x="772.3" y="2133.8" text-anchor="middle">Time <tspan class="i">t</tspan> (fs)</text>
<text x="1678.8" y="2133.8" text-anchor="middle">Time <tspan class="i">t</tspan> (fs)</text>
<text transform="translate(103.8 531.4) rotate(-90)" text-anchor="middle">Populations</text>
<text transform="translate(103.8 1437.3) rotate(-90)" text-anchor="middle">Populations</text>
<text x="391.5" y="235.6" style="font-size:99.5px">(a)</text>
<text x="1298.0" y="235.6" style="font-size:99.5px">(c)</text>
<text x="387.6" y="1141.6" style="font-size:99.5px">(b)</text>
<text x="1294.0" y="1141.6" style="font-size:99.5px">(d)</text>
</g>
</g>
</svg></body></html>
